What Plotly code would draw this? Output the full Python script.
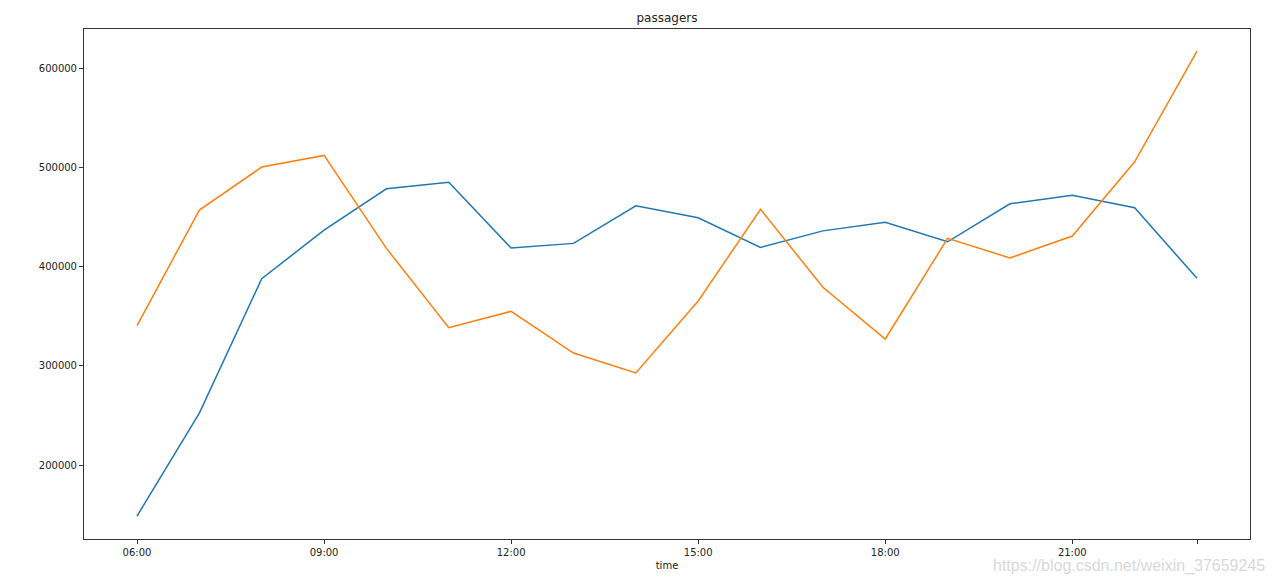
import plotly.graph_objects as go

hours = list(range(6, 24))
series_blue = [148800, 252500, 387800, 436800, 478400, 484900, 418700, 423400,
               461300, 449200, 419400, 436000, 444600, 425000, 463300, 471800,
               459300, 388200]
series_orange = [340500, 457000, 500300, 512000, 418400, 338500, 355000, 313000,
                 292900, 365400, 457700, 379200, 327100, 428500, 408700, 430800,
                 505600, 617100]
tick_vals = [6, 9, 12, 15, 18, 21, 23]
tick_text = ["06:00", "09:00", "12:00", "15:00", "18:00", "21:00", ""]
y_ticks = [200000, 300000, 400000, 500000, 600000]

fig = go.Figure()
fig.add_trace(go.Scatter(x=hours, y=series_blue, mode="lines",
                         line=dict(color="#1f77b4", width=1.5), showlegend=False))
fig.add_trace(go.Scatter(x=hours, y=series_orange, mode="lines",
                         line=dict(color="#ff7f0e", width=1.5), showlegend=False))

axis_common = dict(showgrid=False, zeroline=False, showline=True, linecolor="#333333",
                   linewidth=1, mirror=True, ticks="outside", ticklen=4, tickwidth=1,
                   tickcolor="#333333",
                   tickfont=dict(family="DejaVu Sans", size=10, color="#222222"))

fig.update_layout(
    width=1277, height=584,
    margin=dict(l=76, r=35, t=21, b=53),
    paper_bgcolor="white", plot_bgcolor="white",
    title=dict(text="passagers", x=0.5, xref="paper", xanchor="center",
               y=1 - 10 / 584, yanchor="middle",
               font=dict(family="DejaVu Sans", size=12, color="#222222")),
    xaxis=dict(range=[5.15, 23.85], tickmode="array", tickvals=tick_vals,
               ticktext=tick_text,
               title=dict(text="time", standoff=4,
                          font=dict(family="DejaVu Sans", size=10, color="#222222")),
               **axis_common),
    yaxis=dict(range=[125700, 639300], tickmode="array", tickvals=y_ticks,
               ticktext=[str(v) for v in y_ticks], **axis_common),
    annotations=[dict(text="https://blog.csdn.net/weixin_37659245", xref="paper",
                      yref="paper", x=1.0146, y=-0.053, xanchor="right", yanchor="middle",
                      showarrow=False,
                      font=dict(family="Liberation Sans", size=16, color="#d8d8d8"))],
)

fig.write_html("out.html")
